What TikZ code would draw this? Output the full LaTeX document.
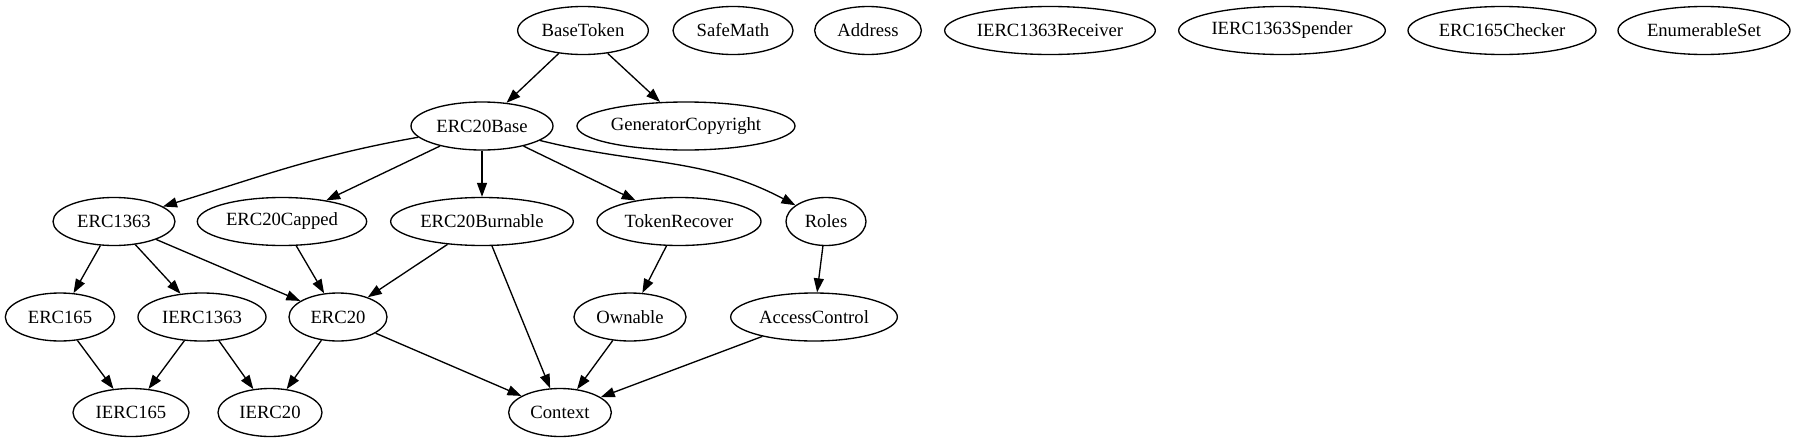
\documentclass[tikz,border=0pt]{standalone}
\usepackage{fontspec}
\setmainfont{Liberation Serif}
\usetikzlibrary{arrows.meta,shapes.geometric}

\newcommand{\lbl}[1]{\makebox[0pt]{#1}}

\tikzset{
  cls/.style={draw,ellipse,line width=1pt,inner sep=0pt,minimum height=36pt,
              minimum width=#1,font=\fontsize{14}{16}\selectfont},
  dep/.style={line width=1pt,-{Triangle[length=10.5pt,width=7.5pt]}}
}

\begin{document}
\begin{tikzpicture}[x=0.75pt,y=-0.75pt]
  \useasboundingbox (0,0) rectangle (1796,443);

  % top row
  \node[cls=98pt]    (basetoken) at (583,30.5)  {\lbl{BaseToken}};
  \node[cls=90pt]    (safemath)  at (733,30.5)  {\lbl{SafeMath}};
  \node[cls=80pt]    (address)   at (868,30.5)  {\lbl{Address}};
  \node[cls=158pt]   (receiver)  at (1050,30.5) {\lbl{IERC1363Receiver}};
  \node[cls=155pt]   (spender)   at (1282,30.5) {\lbl{IERC1363Spender}};
  \node[cls=141pt]   (checker)   at (1502,30.5) {\lbl{ERC165Checker}};
  \node[cls=129pt]   (enumset)   at (1704,30.5) {\lbl{EnumerableSet}};

  \node[cls=106.5pt] (erc20base) at (482,126)   {\lbl{ERC20Base}};
  \node[cls=163.5pt] (copyright) at (686,126)   {\lbl{GeneratorCopyright}};

  \node[cls=91.5pt]  (erc1363)   at (114,221.5) {\lbl{ERC1363}};
  \node[cls=127pt]   (capped)    at (282,221.5) {\lbl{ERC20Capped}};
  \node[cls=137pt]   (burnable)  at (482,221.5) {\lbl{ERC20Burnable}};
  \node[cls=123pt]   (recover)   at (679,221.5) {\lbl{TokenRecover}};
  \node[cls=60pt]    (roles)     at (826,221.5) {\lbl{Roles}};

  \node[cls=82pt]    (erc165)    at (60,317)    {\lbl{ERC165}};
  \node[cls=96pt]    (ierc1363)  at (202,317)   {\lbl{IERC1363}};
  \node[cls=73.5pt]  (erc20)     at (338,317)   {\lbl{ERC20}};
  \node[cls=84pt]    (ownable)   at (630,317)   {\lbl{Ownable}};
  \node[cls=125pt]   (access)    at (814,317)   {\lbl{AccessControl}};

  \node[cls=87pt]    (ierc165)   at (131,412.5) {\lbl{IERC165}};
  \node[cls=78pt]    (ierc20)    at (270,412.5) {\lbl{IERC20}};
  \node[cls=77pt]    (context)   at (560,412.5) {\lbl{Context}};

  % inheritance
  \draw[dep] (basetoken) -- (erc20base);
  \draw[dep] (basetoken) -- (copyright);
  \draw[dep] (erc20base) to[out=190,in=17] (erc1363);
  \draw[dep] (erc20base) -- (capped);
  \draw[dep] (erc20base) -- (burnable);
  \draw[dep] (erc20base) -- (recover);
  \draw[dep] (erc20base) to[out=-14,in=152] (roles);
  \draw[dep] (erc1363) -- (erc165);
  \draw[dep] (erc1363) -- (ierc1363);
  \draw[dep] (erc1363) -- (erc20);
  \draw[dep] (capped) -- (erc20);
  \draw[dep] (burnable) -- (erc20);
  \draw[dep] (burnable) -- (context);
  \draw[dep] (recover) -- (ownable);
  \draw[dep] (roles) -- (access);
  \draw[dep] (erc165) -- (ierc165);
  \draw[dep] (ierc1363) -- (ierc165);
  \draw[dep] (ierc1363) -- (ierc20);
  \draw[dep] (erc20) -- (ierc20);
  \draw[dep] (erc20) -- (context);
  \draw[dep] (ownable) -- (context);
  \draw[dep] (access) -- (context);
\end{tikzpicture}
\end{document}
